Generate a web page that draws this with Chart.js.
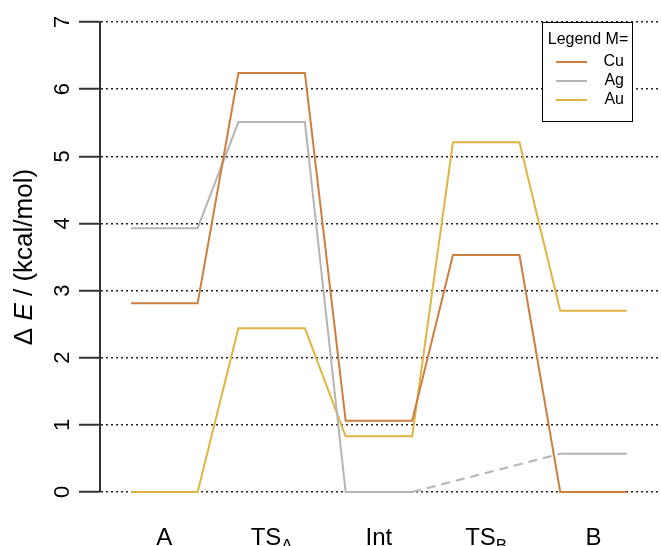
<!DOCTYPE html>
<html>
<head>
<meta charset="utf-8">
<script src="https://cdn.jsdelivr.net/npm/chart.js@4"></script>
<style>
  html, body { margin: 0; padding: 0; background: #fff; }
  #box { width: 661px; height: 546px; }
</style>
</head>
<body>
<div id="box"><canvas id="profile"></canvas></div>
<script>
// states along the reaction path (main text + subscript)
const states = ['A', 'TS', 'Int', 'TS', 'B'];
const stateSubs = ['', 'A', '', 'B', ''];

// energies in kcal/mol, null = state not present
const energyCu = [2.81, 6.24, 1.06, 3.53, 0];
const energyAg = [3.93, 5.51, 0, null, 0.57];
const energyAu = [0, 2.44, 0.83, 5.21, 2.70];

const yTicks = [0, 1, 2, 3, 4, 5, 6, 7];
const legendTitle = 'Legend M=';
const halfWidth = 0.31;

const FONT = '"Liberation Sans", Arial, sans-serif';

// every state becomes a flat level: two points
function levelPoints(values) {
    const pts = [];
    values.forEach((v, i) => {
        if (v === null) return;
        pts.push({ x: i - halfWidth, y: v });
        pts.push({ x: i + halfWidth, y: v });
    });
    return pts;
}

function makeSet(label, values, color) {
    return {
        label: label,
        data: levelPoints(values),
        borderColor: color,
        borderWidth: 2,
        pointRadius: 0,
        tension: 0,
        clip: 4,
        // a skipped state is bridged with a dashed line
        segment: {
            borderDash: ctx => (ctx.p1.parsed.x - ctx.p0.parsed.x > 1 ? [9, 6] : undefined)
        }
    };
}

const textPlugin = {
    id: 'textPlugin',
    afterDraw(chart) {
        const { ctx, chartArea, scales: { x, y } } = chart;
        ctx.save();
        ctx.fillStyle = '#000';

        // y tick labels, rotated like the reference
        ctx.font = '22px ' + FONT;
        ctx.textAlign = 'center';
        ctx.textBaseline = 'middle';
        yTicks.forEach(t => {
            ctx.save();
            ctx.translate(chartArea.left - 37, y.getPixelForValue(t));
            ctx.rotate(-Math.PI / 2);
            ctx.fillText(String(t), 0, 0);
            ctx.restore();
        });

        // y axis title: "Δ E / (kcal/mol)" with italic E
        const parts = [
            { t: '\u0394 ', f: '26px ' + FONT },
            { t: 'E', f: 'italic 26px ' + FONT },
            { t: ' / (kcal/mol)', f: '26px ' + FONT }
        ];
        let total = 0;
        parts.forEach(p => { ctx.font = p.f; p.w = ctx.measureText(p.t).width; total += p.w; });
        ctx.save();
        ctx.translate(25, (chartArea.top + chartArea.bottom) / 2);
        ctx.rotate(-Math.PI / 2);
        ctx.textAlign = 'left';
        let pos = -total / 2;
        parts.forEach(p => { ctx.font = p.f; ctx.fillText(p.t, pos, 0); pos += p.w; });
        ctx.restore();

        // x labels with subscripts
        ctx.textBaseline = 'alphabetic';
        ctx.textAlign = 'left';
        states.forEach((s, i) => {
            ctx.font = '24px ' + FONT;
            const w1 = ctx.measureText(s).width;
            ctx.font = '17px ' + FONT;
            const w2 = stateSubs[i] ? ctx.measureText(stateSubs[i]).width : 0;
            const left = x.getPixelForValue(i) - (w1 + w2) / 2;
            ctx.font = '24px ' + FONT;
            ctx.fillText(s, left, 545);
            if (stateSubs[i]) {
                ctx.font = '17px ' + FONT;
                ctx.fillText(stateSubs[i], left + w1, 551);
            }
        });

        // legend box
        const bx = 542, by = 22, bw = 90, bh = 99;
        ctx.fillStyle = '#fff';
        ctx.fillRect(bx, by, bw, bh);
        ctx.strokeStyle = '#000';
        ctx.lineWidth = 1;
        ctx.strokeRect(bx + 0.5, by + 0.5, bw, bh);
        ctx.fillStyle = '#000';
        ctx.font = '16px ' + FONT;
        ctx.textAlign = 'center';
        ctx.textBaseline = 'middle';
        ctx.fillText(legendTitle, bx + bw / 2 + 1, 40);
        chart.data.datasets.forEach((ds, i) => {
            const ly = 62 + i * 19;
            ctx.strokeStyle = ds.borderColor;
            ctx.lineWidth = 2;
            ctx.beginPath();
            ctx.moveTo(556, ly);
            ctx.lineTo(587, ly);
            ctx.stroke();
            ctx.fillStyle = '#000';
            ctx.textAlign = 'right';
            ctx.fillText(ds.label, 624, ly);
        });
        ctx.restore();
    }
};

const chart = new Chart(document.getElementById('profile'), {
    type: 'line',
    data: {
        datasets: [
            makeSet('Cu', energyCu, '#CD7F40'),
            makeSet('Ag', energyAg, '#B5B5B5'),
            makeSet('Au', energyAu, '#E0B440')
        ]
    },
    options: {
        responsive: true,
        maintainAspectRatio: false,
        animation: false,
        layout: { padding: { top: 22, bottom: 54, left: 0, right: 1 } },
        plugins: {
            legend: { display: false },
            tooltip: { enabled: false }
        },
        scales: {
            x: {
                type: 'linear',
                min: -0.6,
                max: 4.62,
                display: false
            },
            y: {
                min: 0,
                max: 7,
                ticks: { stepSize: 1, display: false },
                grid: {
                    color: '#222',
                    lineWidth: 1.5,
                    tickLength: 21,
                    tickColor: '#333',
                    tickWidth: 2,
                    tickBorderDash: []
                },
                border: { display: true, color: '#333', width: 2, dash: [2, 3] },
                afterFit(scale) { scale.width = 100; }
            }
        }
    },
    plugins: [textPlugin]
});
</script>
</body>
</html>
